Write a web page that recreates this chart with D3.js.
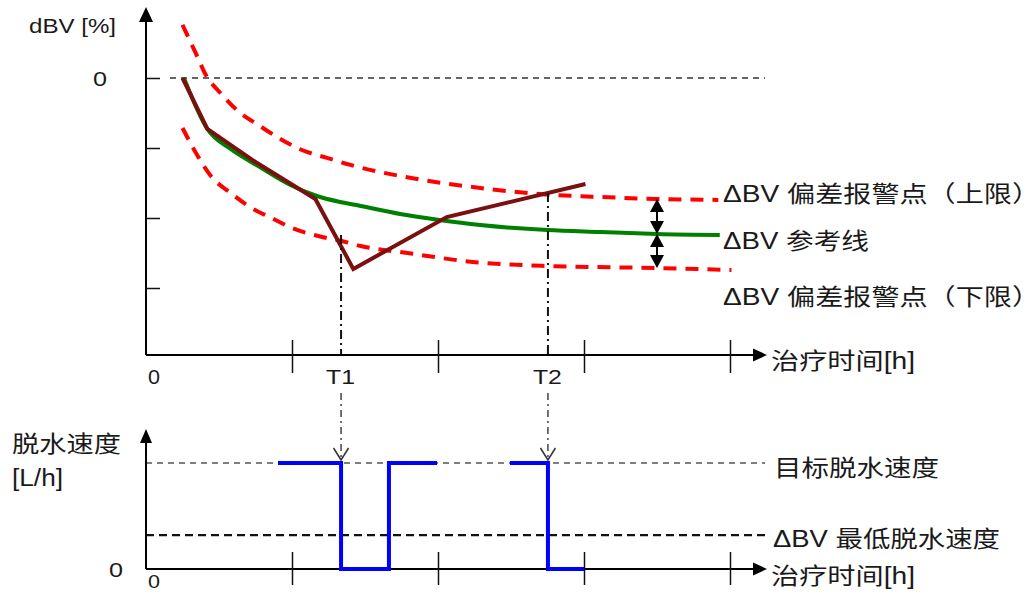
<!DOCTYPE html>
<html>
<head>
<meta charset="utf-8">
<script src="https://cdn.jsdelivr.net/npm/d3@7"></script>
<style>
  body { margin: 0; background: #fff; }
  svg { display: block; }
  text { font-family: "Liberation Sans", Arial, "Noto Sans CJK SC", sans-serif; fill: #1a1a1a; }
</style>
</head>
<body>
<svg id="chart" width="1027" height="593"></svg>
<script>
// ---- data ----
// time axis ticks (h) and dBV axis ticks (%)
const timeTicks = [1, 2, 3, 4];
const dbvTicks = [0, -5, -10, -15];

// ΔBV reference curve [time, dBV %]
const refCurve = [
  [0.26, 0], [0.42, -3.64], [0.58, -5.07], [0.78, -6.36], [0.99, -7.64],
  [1.17, -8.43], [1.33, -8.86], [1.47, -9.14], [1.74, -9.71], [2.01, -10.14],
  [2.29, -10.5], [2.75, -10.86], [3.11, -11.0], [3.5, -11.14], [3.93, -11.21]
];
// upper deviation alarm limit
const upperLimit = [
  [0.25, 3.79], [0.34, 1.79], [0.41, 0.21], [0.51, -1.07], [0.63, -2.36],
  [0.77, -3.36], [0.91, -4.29], [1.05, -5.07], [1.24, -5.71], [1.40, -6.21],
  [1.74, -7.0], [2.24, -7.79], [2.70, -8.29], [3.11, -8.5], [3.5, -8.64], [3.92, -8.71]
];
// lower deviation alarm limit
const lowerLimit = [
  [0.25, -3.57], [0.35, -5.5], [0.45, -7.07], [0.58, -8.21], [0.71, -9.21],
  [0.86, -10.0], [1.0, -10.71], [1.18, -11.29], [1.34, -11.64], [1.47, -12.0],
  [1.79, -12.5], [2.24, -13.14], [2.75, -13.43], [3.5, -13.57], [4.01, -13.71]
];
// measured ΔBV
const measured = [
  [0.25, 0], [0.42, -3.64], [0.75, -6.0], [1.16, -8.64], [1.42, -13.64],
  [2.06, -9.93], [3.01, -7.57]
];

// alarm events: label, time, dBV where the event is detected
const eventLabels = ["T1", "T2"];
const eventTimes = [1.336, 2.753];
const eventDbv = [-11.21, -8.21];

// time at which the tolerance band is marked
const bandMarkTime = 3.5;

// ultrafiltration rate (relative units): target and ΔBV minimum
const targetRate = 1.0;
const minRate = 0.32;
// rate steps [time, rate] (step-after)
const rateStepsA = [[0.904, 1], [1.336, 0], [1.664, 1], [1.993, 1]];
const rateStepsB = [[2.493, 1], [2.753, 0], [3.0, 0]];

// ---- layout ----
const svg = d3.select("#chart");
const x0 = 146;                // shared vertical axis position
const xEnd = 767;              // arrow tip of time axes
const topAxisY = 355, topArrowY = 7;
const botAxisY = 569, botArrowY = 429;

const x = d3.scaleLinear().domain([0, 4]).range([x0, 730]);
const yTop = d3.scaleLinear().domain([0, -15]).range([78, 288]);
const yBot = d3.scaleLinear().domain([0, 1.3]).range([botAxisY, botAxisY - 137.8]);

const font = 23;

function interp(series, t) {
  for (let i = 1; i < series.length; i++) {
    const [t0, v0] = series[i - 1], [t1, v1] = series[i];
    if (t >= t0 && t <= t1) return v0 + (v1 - v0) * (t - t0) / (t1 - t0);
  }
  return series[series.length - 1][1];
}

function label(txt, xx, yy, size, len) {
  const t = svg.append("text").attr("x", xx).attr("y", yy)
    .style("font-size", size + "px").text(txt);
  if (len) t.attr("textLength", len).attr("lengthAdjust", "spacingAndGlyphs");
  return t;
}

// ---- top panel ----
// zero reference line
svg.append("line")
  .attr("x1", 170).attr("x2", 765).attr("y1", yTop(0)).attr("y2", yTop(0))
  .attr("stroke", "#333").attr("stroke-width", 1.5).attr("stroke-dasharray", "6,5");

const smooth = d3.line().x(d => x(d[0])).y(d => yTop(d[1])).curve(d3.curveMonotoneX);
const straight = d3.line().x(d => x(d[0])).y(d => yTop(d[1]));

svg.append("path").attr("d", smooth(refCurve))
  .attr("fill", "none").attr("stroke", "#008000").attr("stroke-width", 4);
svg.append("path").attr("d", smooth(upperLimit))
  .attr("fill", "none").attr("stroke", "#ff0000").attr("stroke-width", 4)
  .attr("stroke-dasharray", "13,9");
svg.append("path").attr("d", smooth(lowerLimit))
  .attr("fill", "none").attr("stroke", "#ff0000").attr("stroke-width", 4)
  .attr("stroke-dasharray", "13,9");
svg.append("path").attr("d", straight(measured))
  .attr("fill", "none").attr("stroke", "#7a1010").attr("stroke-width", 4)
  .attr("stroke-linejoin", "miter");

// tolerance band double arrows
(function () {
  const bx = x(bandMarkTime);
  const yu = yTop(interp(upperLimit, bandMarkTime));
  const yr = yTop(interp(refCurve, bandMarkTime));
  const yl = yTop(interp(lowerLimit, bandMarkTime));
  const hw = 7, hl = 13;
  [[yu, yr], [yr, yl]].forEach(([a, b]) => {
    svg.append("line").attr("x1", bx).attr("x2", bx).attr("y1", a + hl - 1).attr("y2", b - hl + 1)
      .attr("stroke", "#000").attr("stroke-width", 2);
    svg.append("path").attr("d", `M${bx},${a} L${bx - hw},${a + hl} L${bx + hw},${a + hl} Z`).attr("fill", "#000");
    svg.append("path").attr("d", `M${bx},${b} L${bx - hw},${b - hl} L${bx + hw},${b - hl} Z`).attr("fill", "#000");
  });
})();

// event lines: dash-dot from detection point down to the rate panel
eventTimes.forEach((t, i) => {
  const ex = x(t);
  svg.append("line").attr("x1", ex).attr("x2", ex)
    .attr("y1", yTop(eventDbv[i])).attr("y2", topAxisY)
    .attr("stroke", "#111").attr("stroke-width", 2).attr("stroke-dasharray", "9,4,2,4");
  const tip = yBot(targetRate) - 3;
  svg.append("line").attr("x1", ex).attr("x2", ex)
    .attr("y1", 393).attr("y2", tip)
    .attr("stroke", "#444").attr("stroke-width", 1.5).attr("stroke-dasharray", "7,4,2,4");
  svg.append("path").attr("d", `M${ex - 7.5},${tip - 12} L${ex},${tip} L${ex + 7.5},${tip - 12}`)
    .attr("fill", "none").attr("stroke", "#333").attr("stroke-width", 1.5);
  label(eventLabels[i], ex - 15, 384, 21, 29);
});

// top axes
svg.append("line").attr("x1", x0).attr("x2", x0).attr("y1", topAxisY).attr("y2", topArrowY + 12)
  .attr("stroke", "#000").attr("stroke-width", 2);
svg.append("path").attr("d", `M${x0},${topArrowY} L${x0 - 7},${topArrowY + 15} L${x0 + 7},${topArrowY + 15} Z`).attr("fill", "#000");
svg.append("line").attr("x1", x0).attr("x2", xEnd - 12).attr("y1", topAxisY).attr("y2", topAxisY)
  .attr("stroke", "#000").attr("stroke-width", 2);
svg.append("path").attr("d", `M${xEnd},${topAxisY} L${xEnd - 14},${topAxisY - 6.5} L${xEnd - 14},${topAxisY + 6.5} Z`).attr("fill", "#000");

svg.append("g").attr("transform", `translate(0,${topAxisY})`)
  .call(d3.axisBottom(x).tickValues(timeTicks).tickSize(18).tickFormat(""))
  .call(g => g.select(".domain").remove())
  .call(g => g.selectAll(".tick line").attr("y1", -15).attr("stroke", "#111").attr("stroke-width", 1.5));

svg.append("g").attr("transform", `translate(${x0},0)`)
  .call(d3.axisLeft(yTop).tickValues(dbvTicks).tickSize(13).tickFormat(""))
  .call(g => g.select(".domain").remove())
  .call(g => g.selectAll(".tick line").attr("x2", 14).attr("stroke", "#111").attr("stroke-width", 1.5));

label("dBV [%]", 29, 33, 21, 87);
label("0", 93, yTop(0) + 8, 21, 14);
label("0", 148, 384, 21, 12);
label("治疗时间[h]", 771, 369, font, 144);

// legend texts for the curves
label("ΔBV 偏差报警点（上限）", 723, 202, font, 317);
label("ΔBV 参考线", 723, 249, font, 146);
label("ΔBV 偏差报警点（下限）", 723, 305, font, 317);

// ---- bottom panel ----
svg.append("line").attr("x1", x0).attr("x2", 765).attr("y1", yBot(targetRate)).attr("y2", yBot(targetRate))
  .attr("stroke", "#555").attr("stroke-width", 1.5).attr("stroke-dasharray", "6,5");
svg.append("line").attr("x1", x0).attr("x2", 765).attr("y1", yBot(minRate)).attr("y2", yBot(minRate))
  .attr("stroke", "#111").attr("stroke-width", 2.2).attr("stroke-dasharray", "8,5");

svg.append("line").attr("x1", x0).attr("x2", x0).attr("y1", botAxisY).attr("y2", botArrowY + 12)
  .attr("stroke", "#000").attr("stroke-width", 2);
svg.append("path").attr("d", `M${x0},${botArrowY} L${x0 - 6},${botArrowY + 14} L${x0 + 6},${botArrowY + 14} Z`).attr("fill", "#000");
svg.append("line").attr("x1", x0).attr("x2", xEnd - 12).attr("y1", botAxisY).attr("y2", botAxisY)
  .attr("stroke", "#000").attr("stroke-width", 2);
svg.append("path").attr("d", `M${xEnd},${botAxisY} L${xEnd - 14},${botAxisY - 6.5} L${xEnd - 14},${botAxisY + 6.5} Z`).attr("fill", "#000");

svg.append("g").attr("transform", `translate(0,${botAxisY})`)
  .call(d3.axisBottom(x).tickValues(timeTicks).tickSize(16).tickFormat(""))
  .call(g => g.select(".domain").remove())
  .call(g => g.selectAll(".tick line").attr("y1", -17).attr("stroke", "#111").attr("stroke-width", 1.5));

const stepLine = d3.line().x(d => x(d[0])).y(d => yBot(d[1])).curve(d3.curveStepAfter);
[rateStepsA, rateStepsB].forEach(s => {
  svg.append("path").attr("d", stepLine(s))
    .attr("fill", "none").attr("stroke", "#0000ff").attr("stroke-width", 4)
    .attr("stroke-linejoin", "miter");
});

label("脱水速度", 12, 452, font, 109);
label("[L/h]", 12, 486, 23, 51);
label("0", 109, botAxisY + 8, 21, 14);
label("0", 148, 588, 19, 12);
label("目标脱水速度", 774, 476, font, 165);
label("ΔBV 最低脱水速度", 773, 547, font, 227);
label("治疗时间[h]", 771, 584, font, 144);
</script>
</body>
</html>
